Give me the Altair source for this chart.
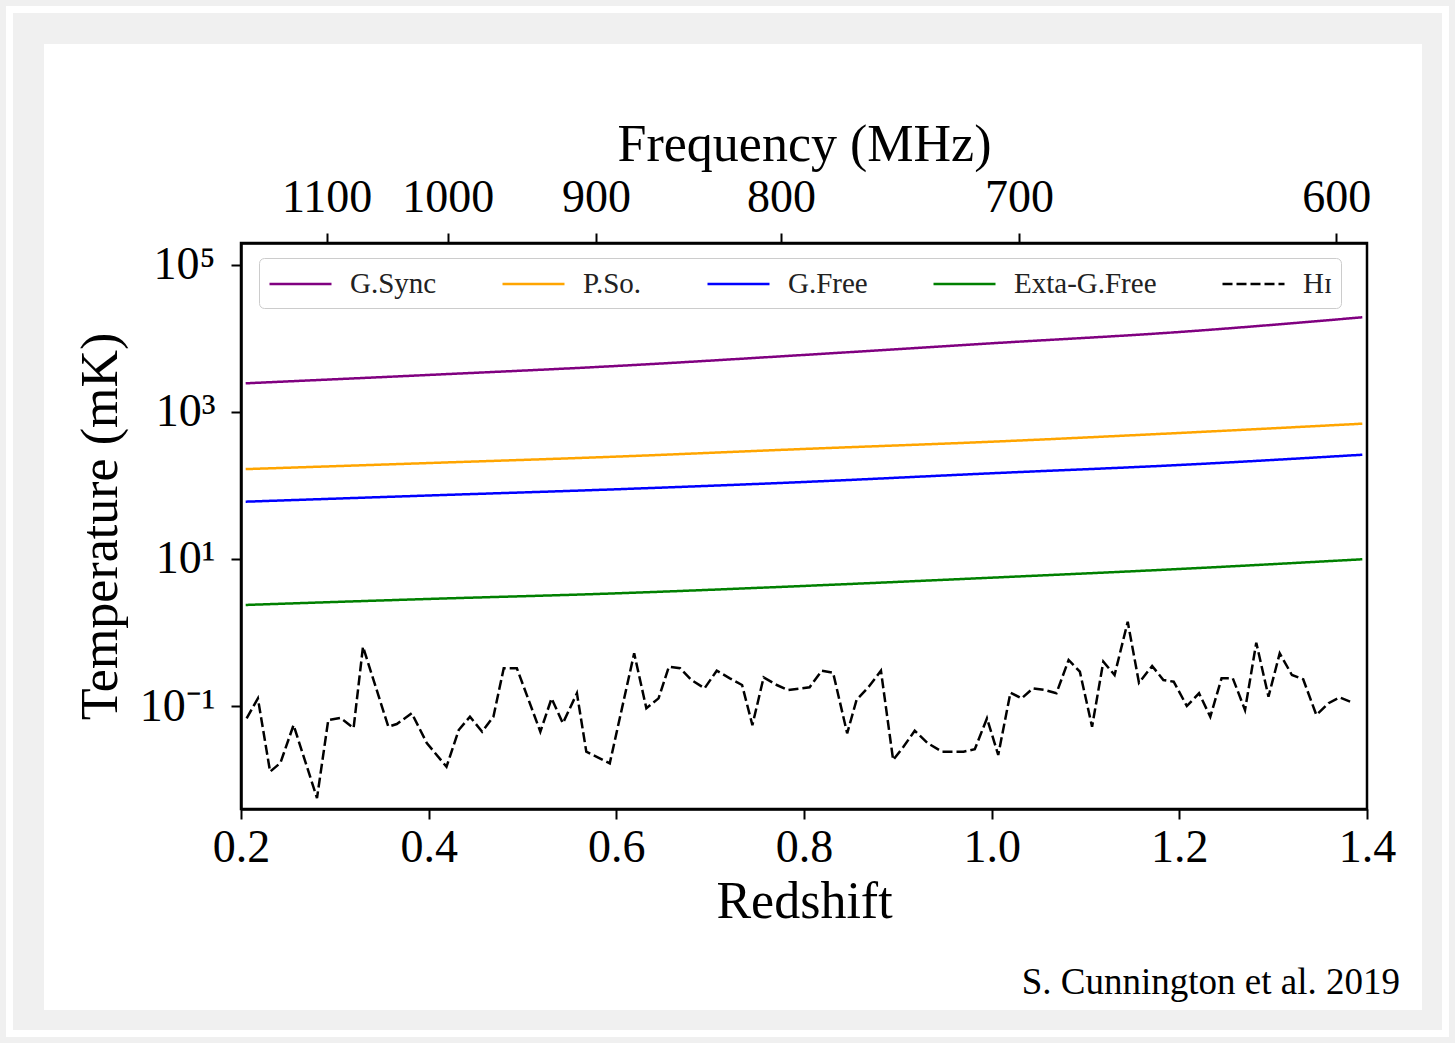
import altair as alt
import pandas as pd

# ---------------- data ----------------
series_names = ["G.Sync", "P.So.", "G.Free", "Exta-G.Free", "Hɪ"]
series_colors = ["#800080", "#FFA500", "#0000FF", "#008000", "#000000"]

fg_z = [0.205, 0.4, 0.6, 0.8, 1.0, 1.2, 1.395]
gsync = [2455, 3190, 4225, 5970, 8600, 12250, 19420]
pso = [167, 202, 247, 314, 394, 518, 693]
gfree = [60.2, 73.1, 88.8, 111.6, 146.6, 190, 262]
egfree = [2.37, 2.86, 3.41, 4.30, 5.57, 7.31, 9.91]

hi_z = [0.206, 0.218, 0.231, 0.242, 0.256, 0.281, 0.293, 0.306, 0.320, 0.330,
        0.357, 0.366, 0.382, 0.398, 0.419, 0.432, 0.444, 0.457, 0.469, 0.480,
        0.494, 0.519, 0.531, 0.543, 0.558, 0.568, 0.593, 0.619, 0.632, 0.645,
        0.656, 0.668, 0.680, 0.694, 0.707, 0.721, 0.734, 0.745, 0.757, 0.771,
        0.783, 0.806, 0.819, 0.831, 0.846, 0.856, 0.869, 0.882, 0.895, 0.906,
        0.918, 0.932, 0.947, 0.970, 0.982, 0.995, 1.007, 1.020, 1.032, 1.044,
        1.057, 1.069, 1.082, 1.094, 1.107, 1.119, 1.131, 1.145, 1.157, 1.171,
        1.183, 1.194, 1.208, 1.221, 1.233, 1.245, 1.257, 1.270, 1.282, 1.295,
        1.307, 1.320, 1.332, 1.346, 1.359, 1.371, 1.382]
hi_t = [0.068, 0.127, 0.0128, 0.0168, 0.055, 0.0056, 0.0645, 0.0687, 0.0502, 0.641,
        0.0523, 0.0569, 0.0796, 0.0314, 0.0149, 0.0471, 0.0715, 0.0447, 0.0715, 0.326,
        0.326, 0.0447, 0.127, 0.0582, 0.149, 0.0239, 0.0166, 0.521, 0.093, 0.127,
        0.343, 0.326, 0.226, 0.174, 0.302, 0.238, 0.193, 0.055, 0.245, 0.193,
        0.165, 0.180, 0.302, 0.284, 0.0425, 0.121, 0.183, 0.302, 0.0184, 0.0279,
        0.0461, 0.0311, 0.0239, 0.0239, 0.0258, 0.068, 0.0216, 0.152, 0.127, 0.174,
        0.165, 0.149, 0.423, 0.293, 0.0523, 0.401, 0.264, 1.40, 0.207, 0.350,
        0.226, 0.214, 0.100, 0.149, 0.0715, 0.238, 0.238, 0.0883, 0.727, 0.134,
        0.521, 0.264, 0.231, 0.0755, 0.109, 0.131, 0.115]

x_ticks = [0.2, 0.4, 0.6, 0.8, 1.0, 1.2, 1.4]
y_ticks = [1e5, 1e3, 1e1, 1e-1]
freq_ticks = [1100, 1000, 900, 800, 700, 600]
HI_REST_MHZ = 1420.4

# ---------------- tables ----------------
rows = []
for name, vals in zip(series_names[:4], [gsync, pso, gfree, egfree]):
    for z, t in zip(fg_z, vals):
        rows.append({"z": z, "T": t, "series": name})
fg_df = pd.DataFrame(rows)
hi_df = pd.DataFrame({"zf": hi_z, "T": hi_t, "series": series_names[4]})
dummy = pd.DataFrame({"a": [0]})

FONT = "Liberation Serif"
W, H = 1126, 566

yscale = alt.Scale(type="log", domain=[0.00397, 199000], nice=False)

legend = alt.Legend(
    title=None, orient="none", legendX=18, legendY=15, direction="horizontal",
    labelFont=FONT, labelFontSize=29, labelColor="#222222",
    symbolType="M-1,0H3", symbolSize=961, symbolStrokeWidth=2.5,
    labelOffset=48, columnPadding=60, padding=9,
    fillColor="white", strokeColor="#cccccc", cornerRadius=5,
)
color = alt.Color("series:N", scale=alt.Scale(domain=series_names, range=series_colors), legend=legend)
dash = alt.StrokeDash("series:N",
                      scale=alt.Scale(domain=series_names, range=[[1, 0]] * 4 + [[10, 4]]),
                      legend=legend)

freq_z = [HI_REST_MHZ / f - 1 for f in freq_ticks]

axis_style = dict(labelFont=FONT, titleFont=FONT, labelFontSize=46, titleFontSize=52,
                  labelColor="black", titleColor="black", titleFontWeight="normal",
                  domainColor="black", domainWidth=2.5, tickColor="black", tickWidth=2,
                  tickSize=10, grid=False, zindex=2, labelFlush=False)

fg_lines = alt.Chart(fg_df).mark_line(strokeWidth=2.5, interpolate="monotone").encode(
    x=alt.X("z:Q", scale=alt.Scale(domain=[0.2, 1.4], nice=False, zero=False),
            axis=alt.Axis(orient="bottom", values=x_ticks, format=".1f", title="Redshift",
                          labelPadding=6, titlePadding=6, **axis_style)),
    y=alt.Y("T:Q", scale=yscale,
            axis=alt.Axis(orient="left", values=y_ticks, title="Temperature (mK)",
                          labelExpr="datum.value >= 1e5 ? '10⁵' : datum.value >= 1e3 ? '10³' : datum.value >= 10 ? '10¹' : '10⁻¹'",
                          labelPadding=16, titlePadding=12, **axis_style)),
    color=color,
    strokeDash=dash,
)

hi_line = alt.Chart(hi_df).mark_line(strokeWidth=2.5).encode(
    x=alt.X("zf:Q", scale=alt.Scale(domain=[0.2, 1.4], nice=False, zero=False),
            axis=alt.Axis(orient="top", values=freq_z, title="Frequency (MHz)",
                          labelExpr=f"format({HI_REST_MHZ}/(1+datum.value), '.0f')",
                          labelPadding=12, titlePadding=3, **axis_style)),
    y=alt.Y("T:Q", scale=yscale),
    color=color,
    strokeDash=dash,
)

panel = alt.Chart(dummy).mark_rect(color="white").encode(
    x=alt.value(-197), x2=alt.value(1181), y=alt.value(-199), y2=alt.value(767))
frame = alt.Chart(dummy).mark_rect(fillOpacity=0, stroke="white", strokeWidth=7).encode(
    x=alt.value(-231.5), x2=alt.value(1204.5), y=alt.value(-233.5), y2=alt.value(790.5))
border = alt.Chart(dummy).mark_rect(fillOpacity=0, stroke="black", strokeWidth=2.5).encode(
    x=alt.value(0), x2=alt.value(W), y=alt.value(0), y2=alt.value(H))
credit = alt.Chart(dummy).mark_text(
    text="S. Cunnington et al. 2019", font=FONT, fontSize=37, align="right",
    baseline="alphabetic", color="black").encode(x=alt.value(1159), y=alt.value(751))

chart = alt.layer(frame, panel, fg_lines, hi_line, border, credit).resolve_scale(
    x="independent"
).properties(
    width=W, height=H,
    autosize=alt.AutoSizeParams(type="none"),
    padding={"left": 241, "top": 243, "right": 88, "bottom": 234},
    background="#f0f0f0",
).configure_view(stroke="black", strokeWidth=2.5)

chart.save("out.html", embed_options={"renderer": "svg", "actions": False})
